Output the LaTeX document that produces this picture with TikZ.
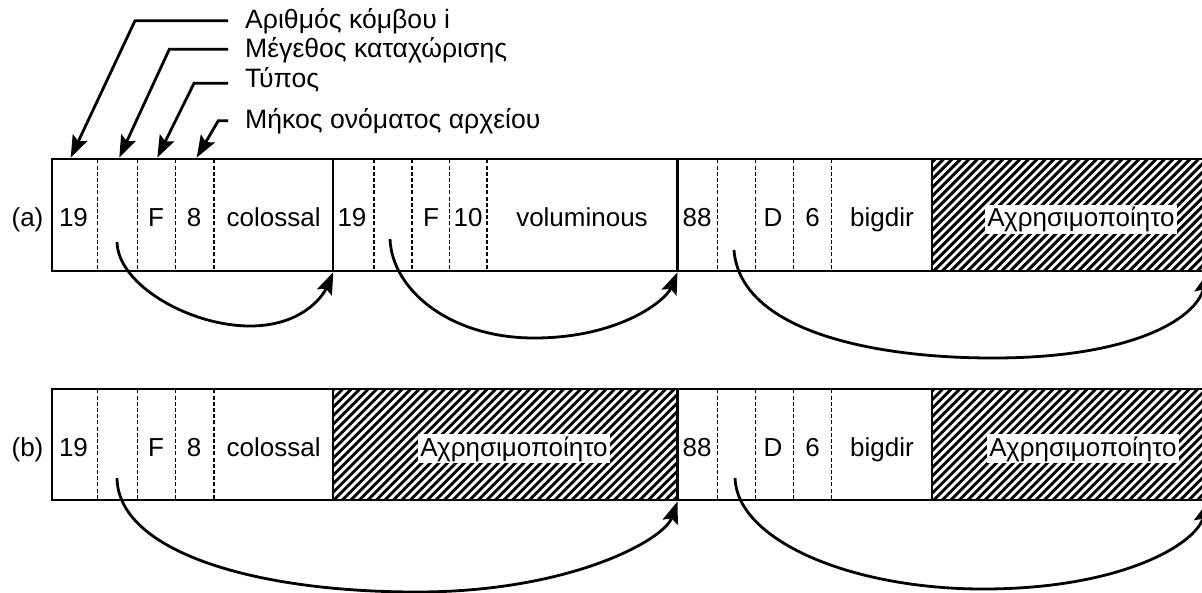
\documentclass[tikz,border=0pt]{standalone}
\usepackage{fontspec}
\setmainfont{Liberation Sans}
\usetikzlibrary{arrows.meta}
\begin{document}
\begin{tikzpicture}[x=1pt,y=-1pt,
  every node/.style={font=\fontsize{26}{30}\selectfont, inner sep=0pt},
  frame/.style={line width=2.3pt},
  sepline/.style={line width=1.4pt, dash pattern=on 4pt off 2.2pt},
  hatchline/.style={line width=2.9pt},
  arr/.style={line width=2.8pt, -{Stealth[length=22pt,width=16pt,inset=4pt]}},
  unused/.style={fill=white, inner sep=2pt, anchor=base},
  cell/.style={anchor=base},
  lbl/.style={anchor=base west, font=\fontsize{26.6}{30}\selectfont}]
\useasboundingbox (0,0) rectangle (1202,592);

% ---------- hatched areas ----------
\begin{scope}
  \clip (931.7,159.3) rectangle (1210,270.7);
  \foreach \i in {815,823.5,...,1215} \draw[hatchline] (\i,270.7) -- ++(111.4,-111.4);
\end{scope}
\begin{scope}
  \clip (332.3,389.3) rectangle (677.5,499.8);
  \foreach \i in {215,223.5,...,680} \draw[hatchline] (\i,499.8) -- ++(110.5,-110.5);
\end{scope}
\begin{scope}
  \clip (931.7,389.3) rectangle (1210,499.8);
  \foreach \i in {815,823.5,...,1215} \draw[hatchline] (\i,499.8) -- ++(110.5,-110.5);
\end{scope}

% ---------- row (a) ----------
\foreach \x in {97.7,137.7,175.7,214,374,412,449.7,487,717.7,755.7,793.3,831.7}
  \draw[sepline] (\x,159.3) -- (\x,270.7);
\draw[frame] (52,159.3) rectangle (1210,270.7);
\foreach \x in {333.3,677.5,931.7}
  \draw[frame] (\x,159.3) -- (\x,270.7);

% ---------- row (b) ----------
\foreach \x in {97.7,137.7,175.7,214,717.7,755.7,793.3,831.7}
  \draw[sepline] (\x,389.3) -- (\x,499.8);
\draw[frame] (52,389.3) rectangle (1210,499.8);
\foreach \x in {332.8,677.5,931.7}
  \draw[frame] (\x,389.3) -- (\x,499.8);

% ---------- texts row (a) ----------
\node[cell] (la) at (27.5,226.7) {(a)};
\node[cell] (a1) at (73.5,226.7) {19};
\node[cell] (a2) at (156,226.7) {F};
\node[cell] (a3) at (194,226.7) {8};
\node[cell] (a4) at (273.7,226.7) {colossal};
\node[cell] (a5) at (352,226.7) {19};
\node[cell] (a6) at (431,226.7) {F};
\node[cell] (a7) at (468,226.7) {10};
\node[cell] (a8) at (582,226.7) {voluminous};
\node[cell] (a9) at (697,226.7) {88};
\node[cell] (a10) at (773,226.7) {D};
\node[cell] (a11) at (812.5,226.7) {6};
\node[cell] (a12) at (882,226.7) {bigdir};
\node[unused] (a13) at (1081,226.7) {Αχρησιμοποίητο};

% ---------- texts row (b) ----------
\node[cell] (lb) at (27.5,456) {(b)};
\node[cell] (b1) at (73.5,456) {19};
\node[cell] (b2) at (156,456) {F};
\node[cell] (b3) at (194,456) {8};
\node[cell] (b4) at (273.7,456) {colossal};
\node[unused] (b5) at (514,456) {Αχρησιμοποίητο};
\node[cell] (b6) at (697,456) {88};
\node[cell] (b7) at (773,456) {D};
\node[cell] (b8) at (812.5,456) {6};
\node[cell] (b9) at (882,456) {bigdir};
\node[unused] (b10) at (1083,456) {Αχρησιμοποίητο};

% ---------- field labels ----------
\node[lbl] (t1) at (245,28.3) {Αριθμός κόμβου i};
\node[lbl] (t2) at (245,57) {Μέγεθος καταχώρισης};
\node[lbl] (t3) at (245,87.5) {Τύπος};
\node[lbl] (t4) at (245,128.5) {Μήκος ονόματος αρχείου};

\coordinate (t1s) at (228,20.7);  \coordinate (t1k) at (135,20.7);  \coordinate (t1e) at (70.7,157.6);
\coordinate (t2s) at (228,49.3);  \coordinate (t2k) at (169.3,49.3); \coordinate (t2e) at (119.3,157.6);
\coordinate (t3s) at (228,83.3);  \coordinate (t3k) at (194,83.3);  \coordinate (t3e) at (157.3,157.6);
\coordinate (t4s) at (228,120.7); \coordinate (t4k) at (218.3,120.7); \coordinate (t4e) at (196.7,157.6);
\draw[arr] (t1s) -- (t1k) -- (t1e);
\draw[arr] (t2s) -- (t2k) -- (t2e);
\draw[arr] (t3s) -- (t3k) -- (t3e);
\draw[arr] (t4s) -- (t4k) -- (t4e);

% ---------- link arrows row (a) ----------
\coordinate (pa1) at (117,242);  \coordinate (qa1) at (333.3,272.2);
\coordinate (pa2) at (390,239);  \coordinate (qa2) at (677.5,272.2);
\coordinate (pa3) at (734,250);  \coordinate (qa3) at (1208,272.2);
\draw[arr] (pa1) .. controls (118,285) and (190,326) .. (250,326)
                 .. controls (300,326) and (322,298) .. (qa1);
\draw[arr] (pa2) .. controls (392,290) and (450,338) .. (534,338)
                 .. controls (620,338) and (666,300) .. (qa2);
\draw[arr] (pa3) .. controls (740,330) and (870,358) .. (993,358)
                 .. controls (1130,358) and (1195,320) .. (qa3);

% ---------- link arrows row (b) ----------
\coordinate (pb1) at (117,478);  \coordinate (qb1) at (677.5,501.4);
\coordinate (pb2) at (735,478);  \coordinate (qb2) at (1208,501.4);
\draw[arr] (pb1) .. controls (118,550) and (250,592) .. (417,592)
                 .. controls (570,592) and (664,540) .. (qb1);
\draw[arr] (pb2) .. controls (737,540) and (850,589) .. (983,589)
                 .. controls (1120,589) and (1195,545) .. (qb2);
\end{tikzpicture}
\end{document}
